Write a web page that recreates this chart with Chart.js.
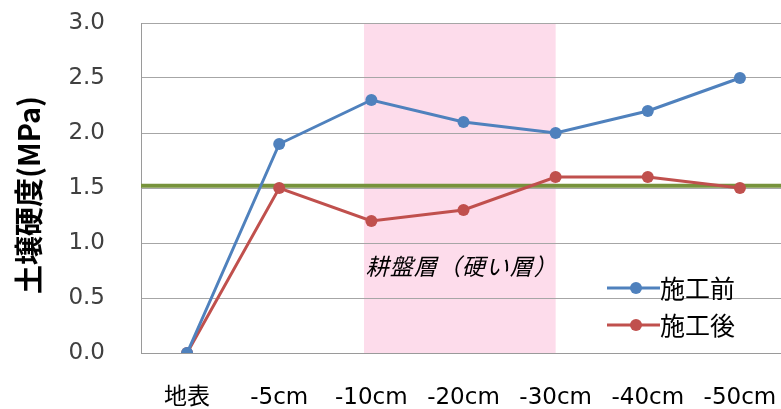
<!DOCTYPE html>
<html>
<head>
<meta charset="utf-8">
<script src="https://cdn.jsdelivr.net/npm/chart.js@4.4.1/dist/chart.umd.min.js"></script>
<style>
html,body{margin:0;padding:0;background:#fff;overflow:hidden;}
#wrap{width:781px;height:409px;overflow:hidden;position:relative;}
#c{position:absolute;left:0;top:0;}
</style>
</head>
<body>
<div id="wrap"><canvas id="c" width="792" height="409" style="width:792px;height:409px"></canvas></div>
<script>
const categories = ['地表', '-5cm', '-10cm', '-20cm', '-30cm', '-40cm', '-50cm'];
const beforeValues = [0, 1.9, 2.3, 2.1, 2.0, 2.2, 2.5];
const afterValues = [0, 1.5, 1.2, 1.3, 1.6, 1.6, 1.5];
const seriesLabels = ['施工前', '施工後'];
const yTitle = '土壌硬度(MPa)';
const thresholdValue = 1.52;
const bandStart = 1.92;
const bandEnd = 4.0;
const bandLabel = '耕盤層（硬い層）';

const BLUE = '#4F81BD';
const RED = '#C0504D';
const NUM_FONT = '"DejaVu Sans", "Noto Sans CJK JP", sans-serif';
const JP_FONT = '"Noto Sans CJK JP", sans-serif';

const decor = {
  id: 'decor',
  beforeDraw(chart) {
    const {ctx, chartArea, scales} = chart;
    const x1 = scales.x.getPixelForValue(bandStart);
    const x2 = scales.x.getPixelForValue(bandEnd);
    ctx.save();
    ctx.fillStyle = '#FDDCEB';
    ctx.fillRect(x1, chartArea.top, x2 - x1, chartArea.bottom - chartArea.top);
    ctx.restore();
  },
  beforeDatasetsDraw(chart) {
    const {ctx, chartArea, scales} = chart;
    const y = scales.y.getPixelForValue(thresholdValue);
    ctx.save();
    ctx.strokeStyle = '#77933C';
    ctx.lineWidth = 4;
    ctx.beginPath();
    ctx.moveTo(chartArea.left, y);
    ctx.lineTo(chartArea.right, y);
    ctx.stroke();
    ctx.restore();
  },
  afterDraw(chart) {
    const {ctx, scales} = chart;
    ctx.save();
    // y axis title
    ctx.save();
    ctx.translate(29, 195);
    ctx.rotate(-Math.PI / 2);
    ctx.font = 'bold 29px ' + JP_FONT;
    ctx.fillStyle = '#000';
    ctx.textAlign = 'center';
    ctx.textBaseline = 'middle';
    ctx.fillText(yTitle, 0, 0);
    ctx.restore();
    // band label
    const xm = (scales.x.getPixelForValue(bandStart) + scales.x.getPixelForValue(bandEnd)) / 2;
    ctx.font = 'italic 23px ' + JP_FONT;
    if ('letterSpacing' in ctx) ctx.letterSpacing = '1px';
    ctx.fillStyle = '#000';
    ctx.textAlign = 'center';
    ctx.textBaseline = 'middle';
    ctx.fillText(bandLabel, xm + 2, 266);
    if ('letterSpacing' in ctx) ctx.letterSpacing = '0px';
    // legend
    const items = chart.data.datasets;
    const ys = [288, 325];
    items.forEach((ds, i) => {
      const y = ys[i];
      ctx.strokeStyle = ds.borderColor;
      ctx.lineWidth = 3;
      ctx.beginPath();
      ctx.moveTo(607, y);
      ctx.lineTo(660, y);
      ctx.stroke();
      ctx.fillStyle = ds.borderColor;
      ctx.beginPath();
      ctx.arc(636, y, 6, 0, Math.PI * 2);
      ctx.fill();
      ctx.fillStyle = '#000';
      ctx.textAlign = 'left';
      ctx.font = '25px ' + JP_FONT;
      ctx.fillText(ds.label, 660, y);
    });
    ctx.restore();
  }
};

new Chart(document.getElementById('c'), {
  type: 'line',
  data: {
    labels: categories,
    datasets: [
      {label: seriesLabels[0], data: beforeValues, borderColor: BLUE, backgroundColor: BLUE,
       borderWidth: 3, pointRadius: 6, pointBackgroundColor: BLUE, pointBorderWidth: 0, tension: 0},
      {label: seriesLabels[1], data: afterValues, borderColor: RED, backgroundColor: RED,
       borderWidth: 3, pointRadius: 6, pointBackgroundColor: RED, pointBorderWidth: 0, tension: 0}
    ]
  },
  options: {
    responsive: false,
    animation: false,
    devicePixelRatio: 1,
    layout: {padding: {left: 0, right: 0, top: 23, bottom: 0}},
    plugins: {legend: {display: false}, tooltip: {enabled: false}},
    scales: {
      x: {
        offset: true,
        grid: {display: false, drawTicks: false},
        border: {display: true, color: '#9A9A9A', width: 1},
        ticks: {color: '#000', font: {family: NUM_FONT, size: 23}, padding: 31, maxRotation: 0, autoSkip: false},
        afterFit(s) { s.height = 56; s.paddingLeft = 0; s.paddingRight = 0; }
      },
      y: {
        min: 0, max: 3,
        grid: {color: '#A6A6A6', lineWidth: 1, drawTicks: false},
        border: {display: true, color: '#9A9A9A', width: 1},
        ticks: {stepSize: 0.5, color: '#404040', font: {family: NUM_FONT, size: 23}, padding: 36,
                callback: v => v.toFixed(1)},
        title: {display: false},
        afterFit(s) { s.width = 141; s.paddingTop = 0; s.paddingBottom = 0; }
      }
    }
  },
  plugins: [decor]
});
</script>
</body>
</html>
